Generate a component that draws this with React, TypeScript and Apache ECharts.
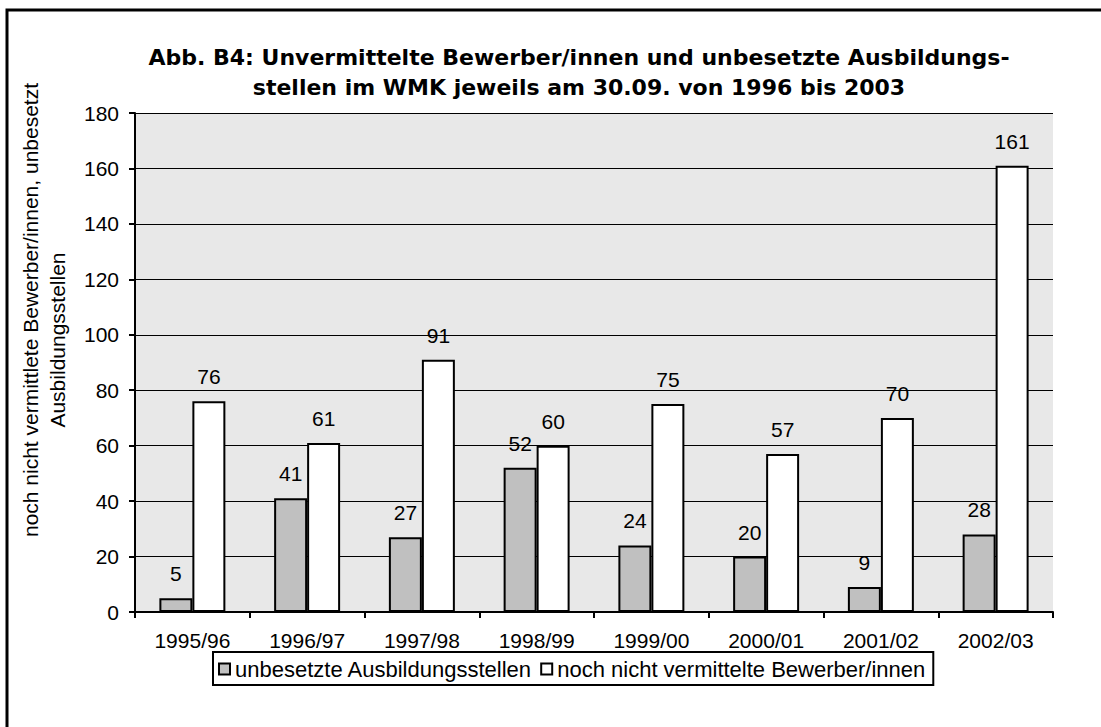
import React, { useEffect, useRef } from "react";
import * as echarts from "echarts";

const categories = ["1995/96", "1996/97", "1997/98", "1998/99", "1999/00", "2000/01", "2001/02", "2002/03"];
const unbesetzt = [5, 41, 27, 52, 24, 20, 9, 28];
const unvermittelt = [76, 61, 91, 60, 75, 57, 70, 161];
const yTicks = { min: 0, max: 180, interval: 20 };
const titleLines = [
  "Abb. B4: Unvermittelte Bewerber/innen und unbesetzte Ausbildungs-",
  "stellen im WMK jeweils am 30.09. von 1996 bis 2003",
];
const yNameLines = ["noch nicht vermittlete Bewerber/innen, unbesetzt", "Ausbildungsstellen"];
const seriesNames = ["unbesetzte Ausbildungsstellen", "noch nicht vermittelte Bewerber/innen"];

const FONT = "Arial, 'Liberation Sans', sans-serif";

export default function App() {
  const ref = useRef<HTMLDivElement>(null);
  useEffect(() => {
    const chart = echarts.init(ref.current!, null, { renderer: "svg" });
    const labelStyle = {
      show: true,
      position: "top" as const,
      distance: 14,
      color: "#000",
      fontSize: 21,
      fontFamily: FONT,
    };
    chart.setOption({
      animation: false,
      backgroundColor: "#fff",
      grid: {
        left: 135,
        right: 48,
        top: 113,
        bottom: 115,
        show: true,
        backgroundColor: "#e8e8e8",
        borderWidth: 0,
      },
      title: {
        text: titleLines.join("\n"),
        left: 574,
        top: 37,
        textAlign: "center",
        textStyle: {
          fontFamily: "'DejaVu Sans', Arial, sans-serif",
          fontSize: 22,
          fontWeight: "bold",
          color: "#000",
          lineHeight: 30,
        },
      },
      legend: {
        left: 213,
        top: 652,
        padding: [6, 8, 5, 5],
        itemGap: 8,
        itemWidth: 11,
        itemHeight: 11,
        borderColor: "#000",
        borderWidth: 2,
        backgroundColor: "#fff",
        icon: "rect",
        textStyle: { fontFamily: FONT, fontSize: 22, color: "#000", padding: [0, 0, 0, 0] },
        data: seriesNames,
      },
      xAxis: {
        type: "category",
        data: categories,
        axisLine: { lineStyle: { color: "#000", width: 2 } },
        axisTick: { show: true, length: 6, interval: 0, lineStyle: { color: "#000", width: 2 } },
        axisLabel: { color: "#000", fontSize: 21, fontFamily: FONT, margin: 18, interval: 0 },
      },
      yAxis: {
        type: "value",
        min: yTicks.min,
        max: yTicks.max,
        interval: yTicks.interval,
        axisLine: { show: true, lineStyle: { color: "#000", width: 2 } },
        axisTick: { show: true, length: 6, lineStyle: { color: "#000", width: 2 } },
        axisLabel: { color: "#000", fontSize: 21, fontFamily: FONT, margin: 16 },
        splitLine: { show: true, lineStyle: { color: "#000", width: 1 } },
      },
      graphic: [
        {
          type: "rect",
          shape: { x: 7, y: 10, width: 1200, height: 800 },
          style: { fill: "none", stroke: "#000", lineWidth: 3 },
          silent: true,
        },
        {
          type: "text",
          x: 30,
          y: 310,
          rotation: Math.PI / 2,
          style: {
            text: yNameLines[0],
            fontFamily: FONT,
            fontSize: 21,
            fill: "#000",
            align: "center",
            verticalAlign: "middle",
          },
        },
        {
          type: "text",
          x: 57,
          y: 340,
          rotation: Math.PI / 2,
          style: {
            text: yNameLines[1],
            fontFamily: FONT,
            fontSize: 21,
            fill: "#000",
            align: "center",
            verticalAlign: "middle",
          },
        },
      ],
      series: [
        {
          name: seriesNames[0],
          type: "bar",
          data: unbesetzt,
          barGap: "0%",
          barCategoryGap: "42.5%",
          itemStyle: { color: "#c0c0c0", borderColor: "#000", borderWidth: 2 },
          label: labelStyle,
        },
        {
          name: seriesNames[1],
          type: "bar",
          data: unvermittelt,
          itemStyle: { color: "#ffffff", borderColor: "#000", borderWidth: 2 },
          label: labelStyle,
        },
      ],
    });
    return () => chart.dispose();
  }, []);
  return (
    <div
      ref={ref}
      style={{ position: "absolute", left: 0, top: 0, width: 1101, height: 727 }}
    />
  );
}
